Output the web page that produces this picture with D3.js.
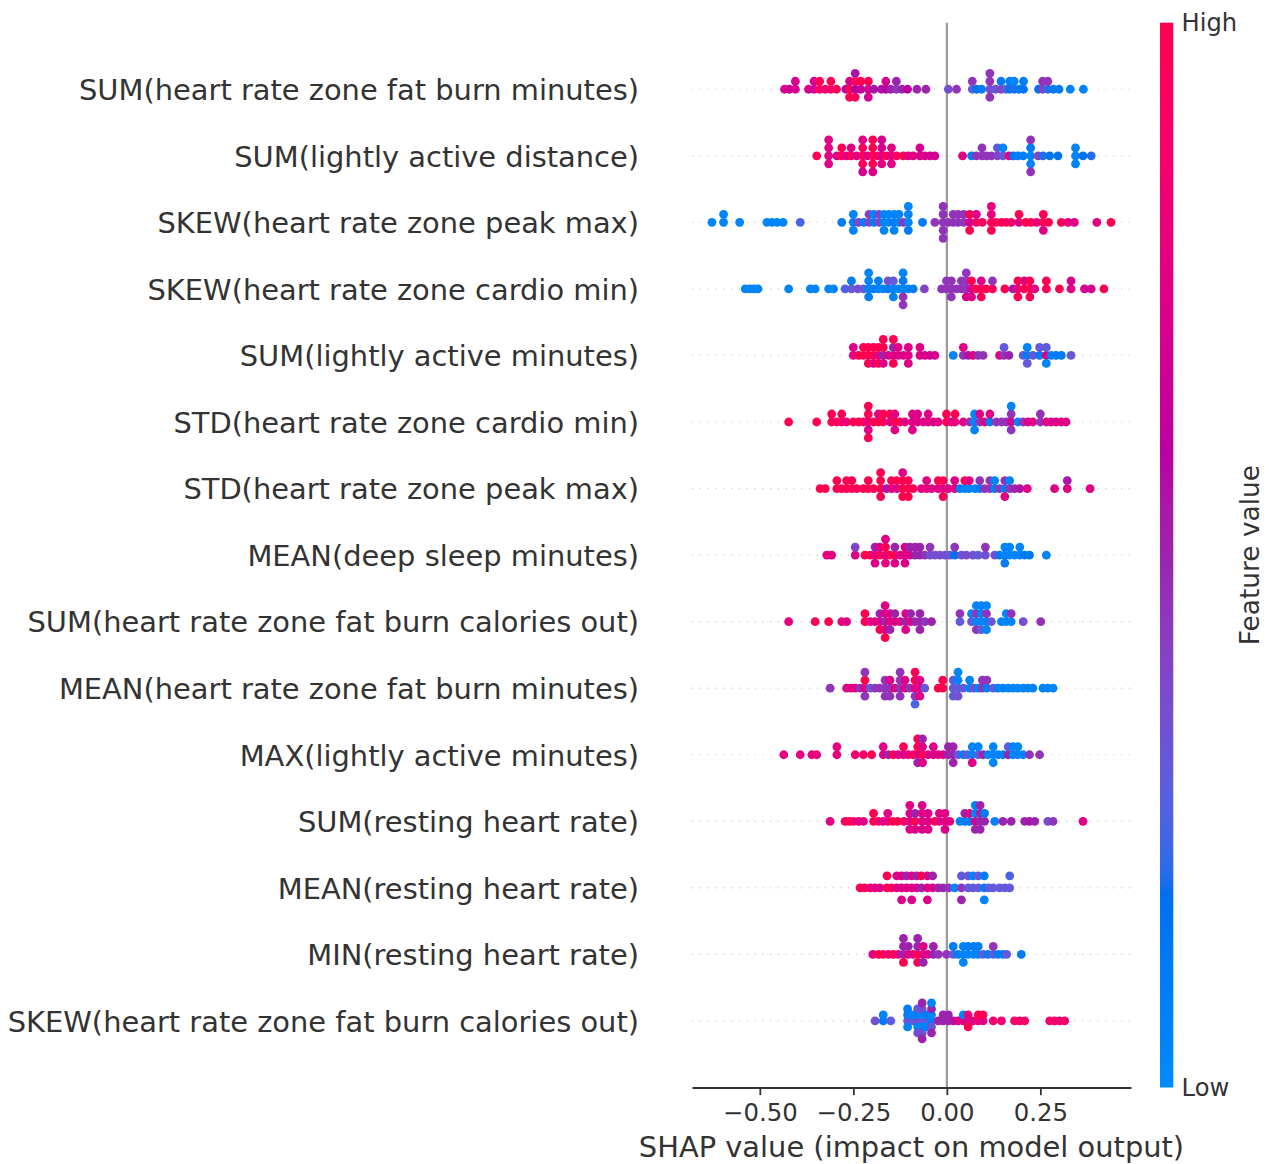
<!DOCTYPE html>
<html><head><meta charset="utf-8">
<script src="https://cdn.jsdelivr.net/npm/d3@7"></script>
<style>body{margin:0;background:#fff}svg{display:block}text{font-family:"DejaVu Sans",sans-serif}</style>
</head><body><svg id="chart" width="1269" height="1164"></svg>
<script>
// ---------------- DATA ----------------
const features = [
  "SUM(heart rate zone fat burn minutes)",
  "SUM(lightly active distance)",
  "SKEW(heart rate zone peak max)",
  "SKEW(heart rate zone cardio min)",
  "SUM(lightly active minutes)",
  "STD(heart rate zone cardio min)",
  "STD(heart rate zone peak max)",
  "MEAN(deep sleep minutes)",
  "SUM(heart rate zone fat burn calories out)",
  "MEAN(heart rate zone fat burn minutes)",
  "MAX(lightly active minutes)",
  "SUM(resting heart rate)",
  "MEAN(resting heart rate)",
  "MIN(resting heart rate)",
  "SKEW(heart rate zone fat burn calories out)"
];
const xTicks = [-0.5, -0.25, 0, 0.25];
const colorbarTicks = ["Low", "High"];
const xAxisLabel = "SHAP value (impact on model output)";
const colorbarLabel = "Feature value";

// each point: [SHAP value, normalised feature value (0 = low, 1 = high)]
const row01 = [[-0.434,0.7],[-0.421,0.7],[-0.405,0.7],[-0.405,0.7],[-0.37,0.7],[-0.355,0.7],[-0.355,0.7],
[-0.34,0.95],[-0.34,1.0],[-0.325,0.85],[-0.31,0.9],[-0.31,1.0],[-0.295,0.95],[-0.27,0.6],
[-0.26,1.0],[-0.26,0.7],[-0.26,1.0],[-0.245,0.6],[-0.245,0.95],[-0.245,0.95],[-0.245,0.55],
[-0.23,0.65],[-0.23,1.0],[-0.21,0.7],[-0.21,1.0],[-0.21,0.7],[-0.195,0.55],[-0.175,0.55],
[-0.163,0.6],[-0.163,0.7],[-0.15,0.5],[-0.135,0.45],[-0.135,0.5],[-0.12,0.5],[-0.105,0.6],
[-0.08,0.5],[-0.056,0.5],[0.004,0.35],[0.026,0.45],[0.068,0.3],[0.068,0.45],[0.08,0.15],[0.093,0.1],
[0.115,0.35],[0.115,0.45],[0.115,0.45],[0.115,0.45],[0.13,0.3],[0.145,0.4],[0.145,0.1],[0.158,0.3],
[0.168,0.15],[0.168,0.05],[0.18,0.2],[0.18,0.05],[0.193,0.1],[0.205,0.15],[0.205,0.1],[0.245,0.15],
[0.256,0.4],[0.256,0.45],[0.27,0.2],[0.27,0.45],[0.285,0.1],[0.3,0.1],[0.33,0.05],[0.365,0.05]];

const row02 = [[-0.348,1.0],[-0.316,0.75],[-0.316,0.75],[-0.316,0.75],[-0.316,0.75],[-0.294,0.75],
[-0.281,0.95],[-0.281,1.0],[-0.268,0.75],[-0.256,0.95],[-0.256,0.75],[-0.241,0.75],
[-0.225,0.95],[-0.225,0.95],[-0.225,0.95],[-0.225,0.75],[-0.225,0.7],[-0.212,0.75],
[-0.198,0.95],[-0.198,1.0],[-0.198,1.0],[-0.198,1.0],[-0.198,0.75],[-0.185,0.95],
[-0.174,0.75],[-0.174,0.7],[-0.174,0.75],[-0.174,0.7],[-0.161,1.0],[-0.148,0.75],[-0.148,0.75],[-0.148,0.75],
[-0.134,0.95],[-0.116,1.0],[-0.103,0.75],[-0.09,0.75],[-0.072,0.75],[-0.072,0.7],[-0.059,0.7],[-0.045,0.7],[-0.032,0.7],
[0.042,0.75],[0.066,0.1],[0.079,0.45],[0.094,0.45],[0.094,0.45],[0.106,0.45],[0.119,0.45],[0.135,0.4],[0.135,0.3],
[0.15,0.3],[0.15,0.05],[0.166,0.8],[0.178,0.15],[0.19,0.1],[0.204,0.1],
[0.224,0.05],[0.224,0.1],[0.224,0.05],[0.224,0.45],[0.224,0.45],[0.244,0.4],[0.257,0.2],[0.275,0.15],[0.297,0.15],
[0.344,0.05],[0.344,0.05],[0.344,0.05],[0.364,0.15],[0.386,0.2]];

const row03 = [[-0.628,0.05],[-0.597,0.05],[-0.597,0.05],[-0.554,0.05],[-0.481,0.05],[-0.468,0.05],[-0.454,0.05],[-0.438,0.05],
[-0.392,0.25],[-0.281,0.1],[-0.25,0.1],[-0.25,0.05],[-0.25,0.05],[-0.236,0.4],[-0.222,0.1],[-0.208,0.4],[-0.208,0.4],
[-0.195,0.1],[-0.195,0.05],[-0.181,0.4],[-0.181,0.4],[-0.168,0.05],[-0.168,0.05],[-0.168,0.05],[-0.155,0.05],[-0.155,0.05],
[-0.141,0.1],[-0.141,0.05],[-0.141,0.05],[-0.128,0.05],[-0.128,0.05],[-0.116,0.45],
[-0.103,0.05],[-0.103,0.05],[-0.103,0.1],[-0.103,0.05],[-0.065,0.1],[-0.032,0.45],
[-0.01,0.45],[-0.01,0.45],[-0.01,0.45],[-0.01,0.45],[-0.01,0.45],[0.004,0.45],[0.017,0.45],[0.017,0.45],
[0.03,0.45],[0.03,0.45],[0.045,0.45],[0.045,0.45],[0.061,0.7],[0.061,1.0],[0.061,1.0],[0.079,0.9],[0.079,0.75],
[0.095,0.95],[0.119,1.0],[0.119,0.8],[0.119,1.0],[0.119,0.8],[0.132,0.95],[0.146,1.0],[0.159,0.95],[0.172,0.9],
[0.193,0.75],[0.193,1.0],[0.211,1.0],[0.225,1.0],[0.24,0.8],[0.258,1.0],[0.258,1.0],[0.258,0.75],[0.272,1.0],
[0.306,1.0],[0.324,0.8],[0.341,0.75],[0.401,0.75],[0.439,1.0]];

const row04 = [[-0.539,0.05],[-0.527,0.05],[-0.516,0.05],[-0.505,0.05],[-0.423,0.05],[-0.365,0.05],[-0.352,0.05],
[-0.316,0.05],[-0.303,0.05],[-0.272,0.25],[-0.255,0.3],[-0.255,0.1],[-0.238,0.35],[-0.223,0.3],
[-0.209,0.05],[-0.209,0.05],[-0.209,0.1],[-0.209,0.05],[-0.196,0.1],[-0.183,0.05],[-0.183,0.1],[-0.17,0.05],
[-0.157,0.1],[-0.157,0.35],[-0.143,0.05],[-0.143,0.3],[-0.143,0.05],[-0.13,0.05],
[-0.117,0.05],[-0.117,0.1],[-0.117,0.45],[-0.117,0.05],[-0.117,0.45],[-0.103,0.05],[-0.09,0.1],[-0.06,0.4],
[-0.014,0.45],[-0.001,0.45],[-0.001,0.45],[0.012,0.45],[0.012,0.45],[0.012,0.45],[0.026,0.45],[0.039,0.45],[0.039,0.45],
[0.052,0.45],[0.052,0.45],[0.052,0.7],[0.052,0.45],[0.066,0.7],[0.066,1.0],[0.066,0.75],[0.079,1.0],
[0.092,0.95],[0.092,0.75],[0.092,1.0],[0.105,1.0],[0.122,0.95],[0.122,0.45],[0.155,1.0],[0.177,0.55],
[0.19,0.8],[0.19,1.0],[0.19,1.0],[0.207,1.0],[0.207,0.75],[0.222,1.0],[0.222,1.0],[0.222,1.0],[0.235,0.75],
[0.266,1.0],[0.266,1.0],[0.301,1.0],[0.332,0.75],[0.332,0.7],[0.368,0.7],[0.386,0.7],[0.42,1.0]];

const row05 = [[-0.25,0.75],[-0.25,0.75],[-0.236,1.0],[-0.223,1.0],[-0.223,1.0],[-0.21,1.0],[-0.21,1.0],[-0.21,1.0],
[-0.196,1.0],[-0.196,1.0],[-0.196,0.75],[-0.183,0.75],[-0.183,1.0],[-0.183,1.0],
[-0.17,0.5],[-0.17,1.0],[-0.17,0.75],[-0.17,1.0],[-0.156,0.75],[-0.143,0.75],[-0.143,0.5],[-0.143,1.0],[-0.143,1.0],
[-0.13,0.75],[-0.13,0.75],[-0.116,0.75],[-0.103,0.75],[-0.103,0.75],[-0.103,0.75],[-0.072,0.75],[-0.072,0.75],
[-0.059,0.7],[-0.045,0.7],[-0.032,0.7],[0.017,0.05],[0.044,0.45],[0.044,0.75],[0.057,0.55],[0.07,0.75],
[0.084,0.45],[0.097,0.45],[0.141,0.75],[0.153,0.45],[0.153,0.3],[0.166,0.5],[0.204,0.3],
[0.215,0.1],[0.215,0.05],[0.215,0.3],[0.23,0.3],[0.248,0.1],[0.248,0.3],[0.266,0.75],[0.266,0.3],[0.266,0.05],
[0.279,0.1],[0.292,0.1],[0.306,0.1],[0.332,0.3]];

const row06 = [[-0.423,1.0],[-0.348,1.0],[-0.308,1.0],[-0.308,1.0],[-0.294,0.9],[-0.281,0.95],[-0.281,1.0],[-0.268,0.8],
[-0.25,1.0],[-0.236,1.0],[-0.223,0.95],[-0.21,0.8],[-0.21,1.0],[-0.21,0.75],[-0.21,1.0],[-0.21,1.0],
[-0.196,1.0],[-0.183,1.0],[-0.183,0.75],[-0.17,1.0],[-0.17,1.0],[-0.152,0.75],[-0.152,1.0],
[-0.139,1.0],[-0.139,0.75],[-0.139,0.75],[-0.125,1.0],[-0.112,0.75],[-0.092,0.75],[-0.092,0.75],[-0.092,0.75],
[-0.078,0.75],[-0.078,0.75],[-0.063,0.75],[-0.05,0.75],[-0.05,0.75],[-0.036,0.75],[-0.023,0.75],
[-0.001,1.0],[-0.001,1.0],[0.012,0.75],[0.022,0.8],[0.022,1.0],[0.044,0.75],[0.061,0.45],
[0.074,0.05],[0.074,0.05],[0.074,0.05],[0.088,0.45],[0.088,0.75],[0.101,0.75],[0.115,0.1],[0.115,0.75],
[0.132,0.45],[0.146,0.45],[0.159,0.45],[0.172,0.7],[0.172,0.45],[0.172,0.45],[0.172,0.05],[0.19,0.05],
[0.204,0.45],[0.217,0.75],[0.23,0.75],[0.25,0.45],[0.25,0.45],[0.266,0.75],[0.279,0.75],[0.292,0.75],[0.306,0.75],[0.319,0.75]];

const row07 = [[-0.339,1.0],[-0.325,1.0],[-0.294,1.0],[-0.294,1.0],[-0.281,0.95],[-0.268,1.0],[-0.268,1.0],
[-0.254,1.0],[-0.254,1.0],[-0.241,0.95],[-0.223,1.0],[-0.21,1.0],[-0.21,1.0],[-0.196,0.95],
[-0.177,1.0],[-0.177,1.0],[-0.177,1.0],[-0.177,1.0],[-0.161,0.55],[-0.148,0.75],[-0.148,1.0],[-0.134,0.75],[-0.134,1.0],
[-0.118,1.0],[-0.118,1.0],[-0.118,1.0],[-0.118,0.75],[-0.103,1.0],[-0.103,1.0],[-0.103,1.0],[-0.09,1.0],
[-0.068,0.75],[-0.054,0.8],[-0.054,0.75],[-0.041,0.75],[-0.023,0.75],[-0.023,1.0],[-0.01,0.75],[-0.01,1.0],[-0.01,1.0],
[0.004,0.75],[0.021,0.75],[0.021,0.75],[0.035,0.1],[0.048,0.05],[0.048,1.0],[0.06,0.05],[0.06,0.75],[0.075,0.05],
[0.088,0.1],[0.088,0.45],[0.101,0.45],[0.115,0.45],[0.115,0.45],[0.128,0.1],[0.128,0.05],[0.141,0.45],
[0.155,0.1],[0.155,0.45],[0.155,0.75],[0.168,0.45],[0.168,0.05],[0.181,0.5],[0.195,0.55],[0.215,0.75],
[0.288,0.75],[0.322,0.75],[0.322,0.55],[0.383,0.75]];

const row08 = [[-0.321,0.8],[-0.308,0.8],[-0.245,0.75],[-0.245,0.4],[-0.219,1.0],[-0.205,1.0],
[-0.192,0.75],[-0.192,0.5],[-0.192,0.75],[-0.179,1.0],[-0.179,0.75],[-0.164,0.75],[-0.164,1.0],[-0.164,0.8],[-0.164,0.75],
[-0.152,1.0],[-0.139,1.0],[-0.139,0.5],[-0.139,0.75],[-0.125,0.75],[-0.112,0.75],[-0.112,0.75],[-0.112,0.75],
[-0.099,0.75],[-0.099,0.5],[-0.085,0.5],[-0.085,0.5],[-0.072,0.5],[-0.072,0.5],[-0.059,0.45],[-0.045,0.35],[-0.045,0.45],
[-0.032,0.35],[-0.019,0.35],[-0.005,0.35],[0.008,0.3],[0.021,0.15],[0.021,0.45],[0.039,0.35],[0.052,0.35],
[0.07,0.35],[0.084,0.3],[0.103,0.35],[0.103,0.45],[0.128,0.35],[0.141,0.1],[0.155,0.05],[0.155,0.05],[0.155,0.1],
[0.168,0.05],[0.168,0.05],[0.181,0.05],[0.195,0.05],[0.195,0.05],[0.208,0.1],[0.221,0.1],[0.266,0.05]];

const row09 = [[-0.423,0.8],[-0.352,1.0],[-0.316,1.0],[-0.281,0.8],[-0.268,0.75],[-0.219,1.0],[-0.219,1.0],
[-0.205,0.8],[-0.192,0.75],[-0.179,0.75],[-0.179,0.5],[-0.179,1.0],
[-0.165,0.5],[-0.165,0.75],[-0.165,0.75],[-0.165,0.75],[-0.165,1.0],[-0.152,0.75],[-0.152,0.75],[-0.152,0.5],
[-0.139,0.75],[-0.139,0.5],[-0.125,0.75],[-0.11,0.5],[-0.11,0.75],[-0.11,0.75],[-0.097,0.75],[-0.097,0.5],
[-0.085,0.5],[-0.072,0.5],[-0.072,0.5],[-0.072,0.5],[-0.059,0.45],[-0.041,0.5],
[0.035,0.3],[0.035,0.45],[0.066,0.3],[0.066,0.05],[0.079,0.05],[0.079,0.45],[0.079,0.45],[0.079,0.05],
[0.092,0.05],[0.092,0.05],[0.092,0.3],[0.092,0.05],[0.106,0.05],[0.106,0.45],[0.106,0.05],[0.106,0.05],
[0.119,0.3],[0.146,0.05],[0.159,0.05],[0.159,0.05],[0.172,0.05],[0.172,0.45],[0.204,0.35],[0.251,0.45]];

const row10 = [[-0.312,0.45],[-0.268,0.75],[-0.256,0.75],[-0.245,0.75],[-0.232,0.45],
[-0.219,0.75],[-0.219,1.0],[-0.219,0.45],[-0.219,0.45],[-0.205,0.3],[-0.192,0.45],[-0.179,0.45],
[-0.165,0.45],[-0.165,0.45],[-0.165,0.45],[-0.152,0.45],[-0.152,0.75],[-0.152,0.45],[-0.139,0.75],
[-0.125,0.45],[-0.125,0.45],[-0.125,0.45],[-0.125,0.45],[-0.112,0.75],[-0.112,0.75],[-0.099,0.45],
[-0.085,0.75],[-0.085,1.0],[-0.085,0.45],[-0.085,1.0],[-0.085,0.25],[-0.072,0.75],[-0.072,0.75],[-0.072,0.75],
[-0.059,0.3],[-0.023,1.0],[-0.011,1.0],[-0.011,1.0],[0.017,0.3],[0.017,0.3],[0.017,0.3],
[0.03,0.3],[0.03,0.05],[0.03,0.35],[0.03,0.05],[0.044,0.3],[0.061,0.05],[0.061,0.05],[0.072,0.35],[0.084,0.05],
[0.095,0.45],[0.095,0.45],[0.107,0.1],[0.107,0.45],[0.124,0.3],[0.137,0.1],[0.15,0.05],[0.164,0.05],[0.177,0.05],
[0.19,0.05],[0.204,0.05],[0.217,0.05],[0.23,0.05],[0.257,0.05],[0.27,0.05],[0.284,0.05]];

const row11 = [[-0.436,0.8],[-0.392,0.8],[-0.361,0.8],[-0.348,0.8],[-0.294,0.8],[-0.294,0.8],[-0.245,0.85],[-0.223,0.9],[-0.201,1.0],
[-0.17,0.75],[-0.17,0.75],[-0.156,0.5],[-0.143,1.0],[-0.13,0.75],[-0.116,0.75],[-0.116,1.0],[-0.103,0.75],[-0.09,1.0],
[-0.078,0.75],[-0.078,1.0],[-0.078,0.5],[-0.078,1.0],[-0.065,1.0],[-0.065,0.75],[-0.065,0.75],[-0.065,0.5],
[-0.05,0.75],[-0.036,0.75],[-0.036,0.75],[-0.023,0.75],[-0.01,0.75],[0.004,0.5],[0.004,0.5],
[0.017,0.5],[0.017,0.5],[0.017,0.5],[0.03,0.3],[0.044,0.1],[0.055,0.3],[0.068,0.05],[0.068,0.05],[0.068,0.75],
[0.084,0.3],[0.084,0.05],[0.097,0.5],[0.11,0.05],[0.124,0.05],[0.124,0.05],[0.124,0.05],[0.137,0.05],[0.15,0.05],
[0.164,0.5],[0.164,0.3],[0.177,0.05],[0.177,0.05],[0.19,0.05],[0.19,0.05],[0.204,0.05],[0.221,0.45],[0.248,0.45]];

const row12 = [[-0.312,0.75],[-0.272,0.9],[-0.261,1.0],[-0.25,0.9],[-0.236,0.75],[-0.223,0.75],[-0.196,1.0],[-0.196,1.0],
[-0.183,0.9],[-0.17,0.75],[-0.158,0.8],[-0.158,0.75],[-0.145,1.0],[-0.132,1.0],[-0.115,0.9],
[-0.099,0.75],[-0.099,0.75],[-0.099,0.75],[-0.099,0.75],[-0.085,1.0],[-0.085,0.5],[-0.085,0.75],
[-0.066,0.75],[-0.066,0.75],[-0.066,0.75],[-0.066,0.75],[-0.05,0.75],[-0.05,0.75],[-0.05,0.75],[-0.032,1.0],
[-0.02,0.75],[-0.02,0.75],[-0.005,0.75],[-0.005,0.75],[-0.005,0.75],[0.008,0.75],[0.035,0.1],[0.048,0.1],[0.048,0.5],
[0.061,0.1],[0.061,0.75],[0.076,0.7],[0.076,0.05],[0.076,0.5],[0.076,0.05],[0.089,0.5],[0.089,0.5],[0.089,0.5],[0.089,0.5],
[0.101,0.5],[0.101,0.1],[0.128,0.05],[0.15,0.5],[0.172,0.5],[0.208,0.5],[0.221,0.55],[0.235,0.5],[0.27,0.35],[0.284,0.45],[0.364,0.75]];

const row13 = [[-0.232,1.0],[-0.22,1.0],[-0.205,0.8],[-0.192,0.8],[-0.179,0.75],[-0.16,1.0],[-0.16,1.0],[-0.148,0.95],
[-0.134,0.75],[-0.134,0.75],[-0.121,0.75],[-0.121,0.75],[-0.121,0.75],[-0.108,0.75],[-0.108,0.5],
[-0.094,0.75],[-0.094,0.75],[-0.094,0.75],[-0.081,0.75],[-0.081,0.5],[-0.068,0.5],[-0.068,1.0],
[-0.052,0.75],[-0.052,0.75],[-0.052,0.75],[-0.038,0.75],[-0.038,0.5],[-0.023,0.5],[-0.01,0.5],[0.005,0.45],[0.021,0.05],
[0.039,0.45],[0.039,0.3],[0.039,0.5],[0.057,0.3],[0.057,0.3],[0.07,0.3],[0.07,0.05],[0.084,0.3],[0.084,0.3],
[0.1,0.1],[0.1,0.1],[0.1,0.05],[0.112,0.3],[0.124,0.3],[0.141,0.3],[0.155,0.3],[0.168,0.3],[0.168,0.25]];

const row14 = [[-0.198,0.75],[-0.183,1.0],[-0.17,1.0],[-0.156,0.8],[-0.143,1.0],[-0.13,0.75],
[-0.116,0.5],[-0.116,0.5],[-0.116,1.0],[-0.116,0.5],[-0.103,0.75],[-0.103,0.5],[-0.09,0.75],
[-0.078,1.0],[-0.078,0.5],[-0.078,1.0],[-0.078,0.5],[-0.063,0.75],[-0.063,0.75],[-0.063,0.5],[-0.05,0.75],
[-0.036,0.5],[-0.036,0.5],[-0.023,0.45],[-0.001,0.45],[0.017,0.3],[0.017,0.1],[0.03,0.1],
[0.044,0.05],[0.044,0.05],[0.044,0.05],[0.057,0.05],[0.057,0.1],[0.072,0.05],[0.072,0.1],[0.084,0.05],[0.084,0.1],
[0.097,0.3],[0.11,0.1],[0.124,0.3],[0.124,0.45],[0.137,0.1],[0.15,0.1],[0.16,0.3],[0.199,0.1]];

const row15 = [[-0.192,0.35],[-0.17,0.1],[-0.17,0.05],[-0.15,0.3],
[-0.105,0.35],[-0.105,0.1],[-0.105,0.05],[-0.105,0.1],[-0.09,0.3],[-0.09,0.05],
[-0.078,0.35],[-0.078,0.1],[-0.078,0.05],[-0.078,0.3],[-0.078,0.35],
[-0.066,0.35],[-0.066,0.05],[-0.066,0.05],[-0.066,0.35],[-0.066,0.35],[-0.066,0.5],[-0.066,0.5],
[-0.054,0.3],[-0.054,0.1],[-0.054,0.05],[-0.041,0.1],[-0.041,0.05],[-0.041,0.3],[-0.041,0.5],[-0.041,0.5],[-0.041,0.05],
[-0.023,0.5],[-0.01,0.5],[-0.01,0.5],[0.004,0.5],[0.004,0.5],[0.017,0.55],[0.03,0.75],[0.044,0.75],[0.044,0.05],
[0.057,0.75],[0.057,0.8],[0.057,1.0],[0.07,0.75],[0.084,0.8],[0.084,1.0],[0.097,0.75],[0.097,1.0],
[0.124,0.85],[0.146,0.85],[0.181,0.9],[0.195,0.9],[0.208,0.9],[0.275,0.85],[0.288,0.9],[0.301,0.85],[0.315,0.9]];

const rows = [row01,row02,row03,row04,row05,row06,row07,row08,row09,row10,row11,row12,row13,row14,row15];

// ---------------- COLOUR MAP (shap red_blue, built in LCh) ----------------
function lch2rgb(L, C, H) {
  const a = C*Math.cos(H), b = C*Math.sin(H);
  const fy = (L+16)/116, fx = a/500 + fy; let fz = fy - b/200;
  if (fz < 0) fz = 0;
  const inv = t => t > 0.2068966 ? t*t*t : (t - 16/116)/7.787;
  const X = inv(fx)*0.95047, Y = inv(fy), Z = inv(fz)*1.08883;
  const lin = [3.2404542*X - 1.5371385*Y - 0.4985314*Z,
               -0.9692660*X + 1.8760108*Y + 0.0415560*Z,
               0.0556434*X - 0.2040259*Y + 1.0572252*Z];
  const c = lin.map(v => { v = v > 0.0031308 ? 1.055*Math.pow(v,1/2.4)-0.055 : 12.92*v; return Math.round(255*Math.min(1,Math.max(0,v))); });
  return d3.rgb(c[0], c[1], c[2]).formatHex();
}
const nsteps = 100, hBlue = 4.6588, hRed = 0.35470565 + 2*Math.PI;
const stopPos = d3.range(nsteps).map(i => i/(nsteps-1));
const stopCol = d3.range(nsteps).map(i => {
  const L = i < 50 ? 54 + (40-54)*i/49 : 40 + (54-40)*(i-50)/49;
  const C = 70 + 20*i/(nsteps-1);
  const H = hBlue + (hRed-hBlue)*i/(nsteps-1);
  return lch2rgb(L, C, H);
});
const cmap = d3.scaleLinear().domain(stopPos).range(stopCol).interpolate(d3.interpolateRgb).clamp(true);

// ---------------- LAYOUT ----------------
const svg = d3.select("#chart");
const plotL = 692, plotR = 1131, plotT = 22.7, plotB = 1087.5;
const axisColor = "#333333";
const allVals = rows.flat().map(p => p[0]);
const vmin = d3.min(allVals), vmax = d3.max(allVals), xpad = 0.05*(vmax - vmin);
const x = d3.scaleLinear().domain([vmin - xpad, vmax + xpad]).range([plotL, plotR]);
const nF = features.length;
const y = d3.scaleLinear().domain([-1, nF]).range([plotB, plotT]);
const rowHeight = 0.4, nbins = 100;

function swarm(pts) {
  const vals = pts.map(p => p[0]);
  const mn = d3.min(vals), mx = d3.max(vals);
  const q = vals.map(v => Math.round(nbins*(v - mn)/(mx - mn + 1e-8)));
  const idx = d3.range(pts.length).sort((a, b) => q[a] - q[b] || a - b);
  const ys = new Array(pts.length).fill(0);
  let layer = 0, last = -1;
  for (const i of idx) {
    if (q[i] !== last) layer = 0;
    ys[i] = Math.ceil(layer/2) * ((layer % 2)*2 - 1);
    layer++; last = q[i];
  }
  const m = d3.max(ys.map(v => v + 1));
  return ys.map(v => v * 0.9 * (rowHeight/m));
}

// grid lines
features.forEach((f, i) => {
  const pos = nF - 1 - i;
  svg.append("line").attr("x1", plotL).attr("x2", plotR).attr("y1", y(pos)).attr("y2", y(pos))
    .attr("stroke", "#cccccc").attr("stroke-width", 1.2).attr("stroke-dasharray", "1.2,6.6");
});
// zero line
svg.append("line").attr("x1", x(0)).attr("x2", x(0)).attr("y1", plotT).attr("y2", plotB)
  .attr("stroke", "#999999").attr("stroke-width", 2.2);

// points
rows.forEach((pts, i) => {
  const pos = nF - 1 - i;
  const ys = swarm(pts);
  svg.append("g").selectAll("circle").data(pts).join("circle")
    .attr("cx", d => x(d[0]))
    .attr("cy", (d, j) => y(pos + ys[j]))
    .attr("r", 4.4)
    .attr("fill", d => cmap(d[1]));
});

// feature labels
features.forEach((f, i) => {
  const pos = nF - 1 - i;
  svg.append("text").attr("x", 639).attr("y", y(pos) + 10.8)
    .attr("text-anchor", "end").attr("font-size", 28.9).attr("fill", axisColor).text(f);
});

// x axis
const xAxis = d3.axisBottom(x).tickValues(xTicks).tickFormat(d3.format(".2f")).tickSizeInner(7.7).tickSizeOuter(0).tickPadding(8);
const gx = svg.append("g").attr("transform", `translate(0,${plotB})`).call(xAxis);
gx.select(".domain").attr("stroke", axisColor).attr("stroke-width", 1.8);
gx.selectAll(".tick line").attr("stroke", axisColor).attr("stroke-width", 1.8);
gx.selectAll(".tick text").attr("fill", axisColor).attr("font-size", 24.4).attr("font-family", '"DejaVu Sans",sans-serif');
svg.append("text").attr("x", (plotL + plotR)/2).attr("y", 1157).attr("text-anchor", "middle")
  .attr("font-size", 28.9).attr("fill", axisColor).text(xAxisLabel);

// colour bar
const defs = svg.append("defs");
const grad = defs.append("linearGradient").attr("id", "cbar").attr("x1", 0).attr("y1", 1).attr("x2", 0).attr("y2", 0);
stopPos.forEach((p, i) => grad.append("stop").attr("offset", p).attr("stop-color", stopCol[i]));
const cbX = 1160, cbW = 13.3;
svg.append("rect").attr("x", cbX).attr("y", plotT).attr("width", cbW).attr("height", plotB - plotT).attr("fill", "url(#cbar)");
const cbScale = d3.scaleLinear().domain([0, 1]).range([plotB, plotT]);
colorbarTicks.forEach((t, i) => {
  svg.append("text").attr("x", cbX + cbW + 8.3).attr("y", cbScale(i) + 8.6)
    .attr("font-size", 24.2).attr("fill", axisColor).text(t);
});
svg.append("text").attr("transform", `translate(1259,${(plotT + plotB)/2}) rotate(-90)`)
  .attr("text-anchor", "middle").attr("font-size", 26.4).attr("fill", axisColor).text(colorbarLabel);
</script></body></html>
